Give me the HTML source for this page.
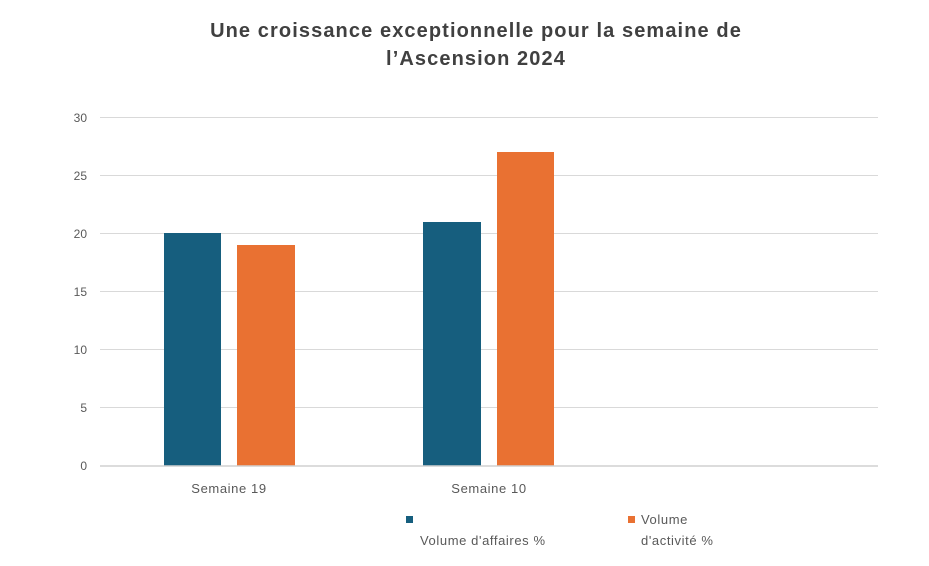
<!DOCTYPE html>
<html><head><meta charset="utf-8"><style>
body{margin:0;background:#fff;width:929px;height:561px;overflow:hidden;font-family:"Liberation Sans",sans-serif}
</style></head><body>
<svg width="929" height="561" xmlns="http://www.w3.org/2000/svg" font-family="Liberation Sans, sans-serif">
<rect width="929" height="561" fill="#fff"/>
<g font-weight="bold" font-size="20" fill="#404040" text-anchor="middle" letter-spacing="1.1">
<text x="476" y="37">Une croissance exceptionnelle pour la semaine de</text>
<text x="476" y="65">l’Ascension 2024</text>
</g>
<g stroke="#d9d9d9" stroke-width="1">
<line x1="100" x2="878" y1="117.5" y2="117.5"/>
<line x1="100" x2="878" y1="175.5" y2="175.5"/>
<line x1="100" x2="878" y1="233.5" y2="233.5"/>
<line x1="100" x2="878" y1="291.5" y2="291.5"/>
<line x1="100" x2="878" y1="349.5" y2="349.5"/>
<line x1="100" x2="878" y1="407.5" y2="407.5"/>
</g>
<g font-size="12" fill="#595959" text-anchor="end">
<text x="87" y="122">30</text><text x="87" y="180">25</text><text x="87" y="238">20</text>
<text x="87" y="296">15</text><text x="87" y="354">10</text><text x="87" y="412">5</text><text x="87" y="470">0</text>
</g>
<rect x="164" y="233" width="57" height="233" fill="#165e7e"/>
<rect x="237" y="245" width="58" height="221" fill="#e97132"/>
<rect x="423" y="222" width="58" height="244" fill="#165e7e"/>
<rect x="497" y="152" width="57" height="314" fill="#e97132"/>
<line x1="100" x2="878" y1="466" y2="466" stroke="#d0d0d0" stroke-width="1.5"/>
<g font-size="13" fill="#595959" text-anchor="middle" letter-spacing="0.6">
<text x="229" y="493">Semaine 19</text><text x="489" y="493">Semaine 10</text>
</g>
<rect x="406" y="516" width="7" height="7" fill="#165e7e"/>
<rect x="628" y="516" width="7" height="7" fill="#e97132"/>
<g font-size="13" fill="#595959" letter-spacing="0.6">
<text x="420" y="545">Volume d'affaires %</text>
<text x="641" y="524">Volume</text>
<text x="641" y="545">d'activité %</text>
</g>
</svg>
</body></html>
